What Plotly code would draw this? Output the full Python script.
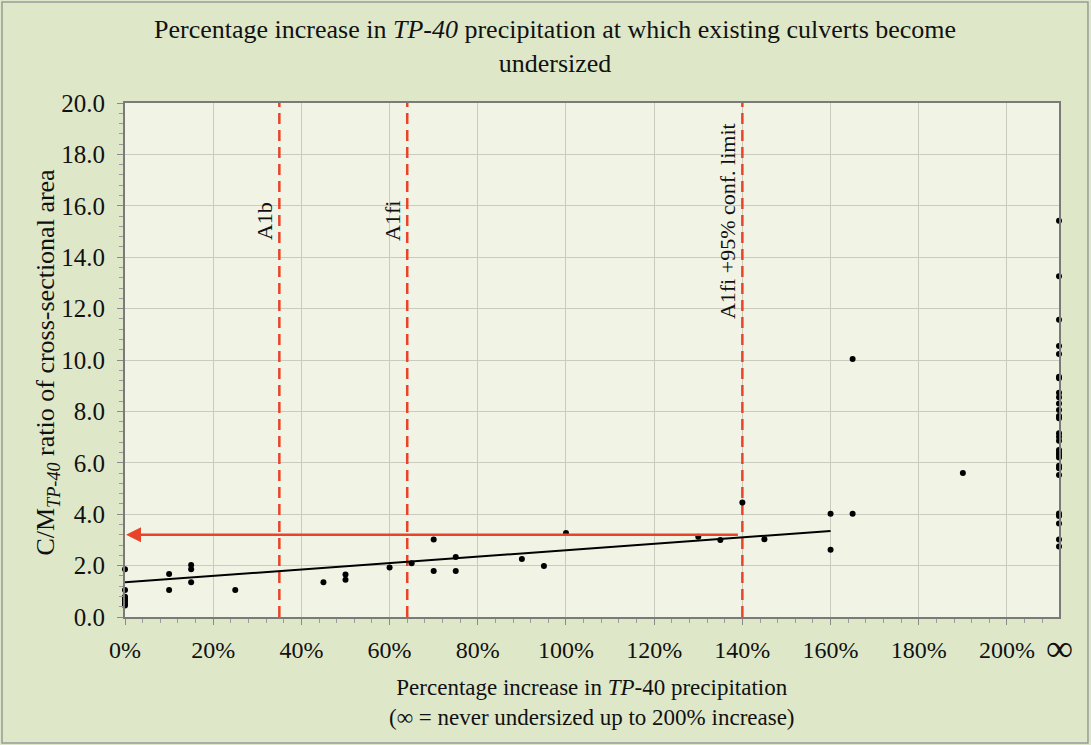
import plotly.graph_objects as go

# ---------------- data ----------------
pct_increase = [0, 0, 0, 0, 0, 0, 0, 10, 10, 15, 15, 15, 25, 45, 50, 50, 60, 65,
                70, 70, 75, 75, 90, 95, 100, 130, 135, 140, 145, 160, 160, 165, 165, 190]
cm_ratio = [1.86, 1.05, 0.79, 0.70, 0.62, 0.53, 0.45, 1.67, 1.05, 2.02, 1.86, 1.35,
            1.05, 1.35, 1.65, 1.45, 1.93, 2.09, 3.02, 1.79, 2.33, 1.79, 2.26, 1.98,
            3.27, 3.12, 3.00, 4.46, 3.03, 4.02, 2.62, 4.02, 10.04, 5.60]

never_ratio = [15.42, 13.26, 11.57, 10.54, 10.23, 9.35, 9.29, 8.73, 8.55, 8.31, 8.05,
               7.82, 7.73, 7.15, 7.01, 6.86, 6.50, 6.39, 6.30, 6.21, 5.89, 5.79, 5.53,
               4.03, 3.93, 3.64, 3.02, 2.74]
INF_X = 211.8  # position used for "never undersized" (∞)

trend_x = [0, 160]
trend_y = [1.35, 3.35]

scenario_names = ["A1b", "A1fi", "A1fi +95% conf. limit"]
scenario_pct = [35, 64, 140]

arrow_y = 3.2
arrow_from = 140

x_tickvals = [0, 20, 40, 60, 80, 100, 120, 140, 160, 180, 200]
x_ticktext = ["0%", "20%", "40%", "60%", "80%", "100%", "120%", "140%", "160%", "180%", "200%"]
y_tickvals = [0, 2, 4, 6, 8, 10, 12, 14, 16, 18, 20]

# ---------------- styles ----------------
SERIF = "Liberation Serif"
RED = "#E8442A"
PAPER = "#DEE8C9"
PLOTBG = "#F1F3E5"
GRID = "#C9CBBF"
TXT = "#111111"

fig = go.Figure()

for name, xv in zip(scenario_names, scenario_pct):
    fig.add_trace(go.Scatter(x=[xv, xv], y=[0, 20], mode="lines",
                             line=dict(color=RED, width=2.5, dash="11px,6px"),
                             hoverinfo="skip", showlegend=False))

fig.add_trace(go.Scatter(x=trend_x, y=trend_y, mode="lines",
                         line=dict(color="black", width=2), showlegend=False))

fig.add_trace(go.Scatter(x=pct_increase, y=cm_ratio, mode="markers",
                         marker=dict(color="black", size=6), cliponaxis=False,
                         showlegend=False))
fig.add_trace(go.Scatter(x=[INF_X] * len(never_ratio), y=never_ratio, mode="markers",
                         marker=dict(color="black", size=6), cliponaxis=False,
                         showlegend=False))

# arrow
fig.add_annotation(x=0, y=arrow_y, ax=arrow_from, ay=arrow_y, xref="x", yref="y",
                   axref="x", ayref="y", showarrow=True, arrowhead=2, arrowsize=1.2,
                   arrowwidth=2.5, arrowcolor=RED, text=" ", standoff=1)

# scenario labels
for name, xv in zip(scenario_names, scenario_pct):
    fig.add_annotation(x=xv, y=15.4, xref="x", yref="y", text=name, textangle=-90,
                       showarrow=False, xanchor="right", yanchor="middle", xshift=-1,
                       font=dict(family=SERIF, size=22, color=TXT))

# chart title
fig.add_annotation(x=0.4604, y=1.109, xref="paper", yref="paper", showarrow=False,
                   text="Percentage increase in <i>TP-40</i> precipitation at which existing culverts become<br>undersized",
                   xanchor="center", yanchor="middle",
                   font=dict(family=SERIF, size=26, color=TXT))
# axis titles
fig.add_annotation(x=0.5, y=-0.167, xref="paper", yref="paper", showarrow=False,
                   text="Percentage increase in <i>TP</i>-40 precipitation<br>"
                        "(\u221e = never undersized up to 200% increase)",
                   xanchor="center", yanchor="middle",
                   font=dict(family=SERIF, size=23, color=TXT))
fig.add_annotation(x=-0.0835, y=0.495, xref="paper", yref="paper", showarrow=False,
                   text="C/M<sub><i>TP-40</i></sub> ratio of cross-sectional area",
                   textangle=-90, xanchor="center", yanchor="middle",
                   font=dict(family=SERIF, size=26, color=TXT))
# infinity tick label
fig.add_annotation(x=INF_X, y=0, xref="x", yref="y", showarrow=False, text="\u221e",
                   yanchor="middle", xanchor="center", yshift=-31,
                   font=dict(family=SERIF, size=38, color=TXT))

# outer frame
fig.add_shape(type="rect", xref="paper", yref="paper",
              x0=-0.1317, x1=1.031, y0=-0.245, y1=1.1965,
              line=dict(color="#9A9A9A", width=1.5), layer="below")

fig.update_layout(
    width=1091, height=745,
    margin=dict(l=125, r=32, t=103, b=128),
    paper_bgcolor=PAPER, plot_bgcolor=PLOTBG,
    font=dict(family=SERIF, size=22, color=TXT),
    showlegend=False,
)
fig.update_xaxes(range=[0, INF_X], tickvals=x_tickvals, ticktext=x_ticktext,
                 showgrid=True, gridcolor=GRID, gridwidth=1, zeroline=False,
                 showline=True, linecolor="#7A7A7A", linewidth=2, mirror=True,
                 ticks="outside", ticklen=6, tickcolor="#8A8A8A",
                 minor=dict(dtick=4, ticks="outside", ticklen=4, tickcolor="#9A9A9A", showgrid=False),
                 tickfont=dict(family=SERIF, size=24, color=TXT), ticklabelstandoff=4)
fig.update_yaxes(range=[0, 20], tickvals=y_tickvals, tickformat=".1f",
                 showgrid=True, gridcolor=GRID, gridwidth=1, zeroline=False,
                 showline=True, linecolor="#7A7A7A", linewidth=2, mirror=True,
                 ticks="outside", ticklen=6, tickcolor="#8A8A8A",
                 minor=dict(dtick=0.4, ticks="outside", ticklen=4, tickcolor="#9A9A9A", showgrid=False),
                 tickfont=dict(family=SERIF, size=25, color=TXT), ticklabelstandoff=7)

fig.write_html("out.html", config={"displayModeBar": False},
               post_script="document.body.style.margin='0';")
